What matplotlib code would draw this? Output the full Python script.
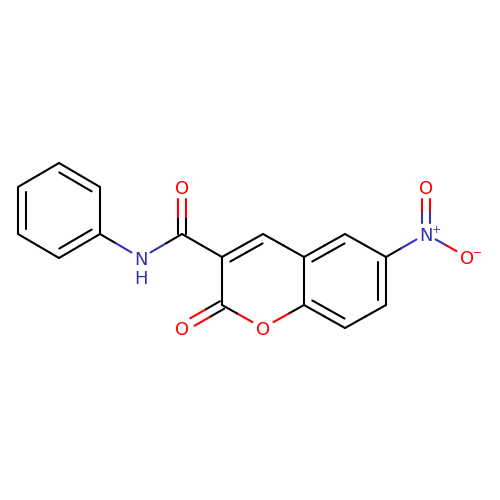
import numpy as np
import matplotlib
matplotlib.use('Agg')
import matplotlib.pyplot as plt

# atom positions (pixels, y going down)
atom_x = [59, 100, 100, 59, 18, 18, 141, 182, 182, 222, 263, 304, 345, 386, 386, 345, 304, 263, 222, 182, 426, 426, 467]
atom_y = [163, 187, 234, 258, 234, 187, 258, 234, 187, 257, 234, 257, 234, 257, 305, 328, 305, 328, 305, 328, 234, 187, 257]
atom_label = ['', '', '', '', '', '', 'N', '', 'O', '', '', '', '', '', '', '', '', 'O', '', 'O', 'N', 'O', 'O']

# atom a, atom b, order, ring the second line sits in (-1 = centred on the bond)
bond_a = [0, 1, 2, 3, 4, 5, 2, 6, 7, 7, 9, 10, 11, 12, 13, 14, 15, 16, 16, 17, 18, 18, 13, 20, 20]
bond_b = [1, 2, 3, 4, 5, 0, 6, 7, 8, 9, 10, 11, 12, 13, 14, 15, 16, 11, 17, 18, 9, 19, 20, 21, 22]
bond_order = [2, 1, 2, 1, 2, 1, 1, 1, 2, 1, 2, 1, 2, 1, 2, 1, 2, 1, 1, 1, 1, 2, 1, 2, 1]
bond_ring = [0, -1, 0, -1, 0, -1, -1, -1, -1, -1, 1, -1, 2, -1, 2, -1, 2, -1, -1, -1, -1, -1, -1, -1, -1]

rings = [[0, 1, 2, 3, 4, 5],
         [9, 10, 11, 16, 17, 18],
         [11, 12, 13, 14, 15, 16]]

colors = {'': '#000000', 'N': '#3333B3', 'O': '#FF0000'}
lw = 1.5
clip = {'': 0, 'N': 11, 'O': 12}


def seg(p, q, c1, c2):
    # two coloured halves, like the usual depiction
    m = (p + q) / 2
    ax.plot([p[0], m[0]], [p[1], m[1]], color=c1, lw=lw, solid_capstyle='round', zorder=2)
    ax.plot([m[0], q[0]], [m[1], q[1]], color=c2, lw=lw, solid_capstyle='round', zorder=2)


fig = plt.figure(figsize=(5, 5), dpi=100)
ax = fig.add_axes([0, 0, 1, 1])
ax.set_xlim(0, 500)
ax.set_ylim(500, 0)
ax.axis('off')

for a, b, order, ring in zip(bond_a, bond_b, bond_order, bond_ring):
    p = np.array([atom_x[a], atom_y[a]], dtype=float)
    q = np.array([atom_x[b], atom_y[b]], dtype=float)
    la, lb = atom_label[a], atom_label[b]
    u = (q - p) / np.linalg.norm(q - p)
    n = np.array([-u[1], u[0]])
    p2 = p + u * clip[la]
    q2 = q - u * clip[lb]
    ca, cb = colors[la], colors[lb]
    if order == 1:
        seg(p2, q2, ca, cb)
    elif ring >= 0:
        cx = np.mean([atom_x[i] for i in rings[ring]])
        cy = np.mean([atom_y[i] for i in rings[ring]])
        if np.dot(np.array([cx, cy]) - p, n) < 0:
            n = -n
        seg(p2, q2, ca, cb)
        seg(p + n * 8 + u * 5, q + n * 8 - u * 5, ca, cb)
    else:
        seg(p2 + n * 4.3, q2 + n * 4.3, ca, cb)
        seg(p2 - n * 4.3, q2 - n * 4.3, ca, cb)

for x, y, s in zip(atom_x, atom_y, atom_label):
    if s:
        ax.text(x, y, s, color=colors[s], fontsize=13, ha='center', va='center_baseline', zorder=3)

ax.text(141, 277, 'H', color=colors['N'], fontsize=13, ha='center', va='center_baseline', zorder=3)
ax.text(436, 229, '+', color=colors['N'], fontsize=8, ha='center', va='center_baseline', zorder=3)
ax.text(478, 252, '\u2212', color=colors['O'], fontsize=8, ha='center', va='center_baseline', zorder=3)

fig.savefig('out.png', dpi=100, facecolor='white')
